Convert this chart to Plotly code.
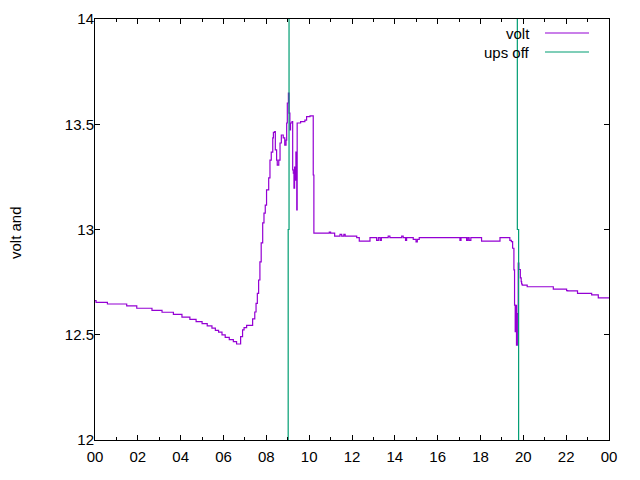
import plotly.graph_objects as go

# volt series (hours since midnight, volts), in segments
decline_t = [0.00, 0.05, 0.58, 1.48, 1.95, 2.66, 3.13, 3.66, 4.06, 4.43, 4.72,
             5.00, 5.24, 5.46, 5.62, 5.77, 5.93, 6.08, 6.27, 6.46, 6.61]
decline_v = [12.662, 12.654, 12.646, 12.637, 12.626, 12.616, 12.607, 12.597, 12.584, 12.573, 12.562,
             12.553, 12.542, 12.531, 12.521, 12.512, 12.499, 12.488, 12.477, 12.467, 12.456]

rise_t = [6.80, 6.89, 6.96, 7.08, 7.36, 7.46, 7.52, 7.58, 7.64, 7.70,
          7.76, 7.83, 7.89, 7.95, 8.01, 8.11, 8.17, 8.23, 8.30]
rise_v = [12.491, 12.523, 12.534, 12.545, 12.575, 12.608, 12.649, 12.697, 12.760, 12.846,
          12.936, 13.031, 13.078, 13.116, 13.188, 13.245, 13.330, 13.368, 13.435]

peak_t = [8.33, 8.39, 8.42, 8.48, 8.51, 8.58, 8.64, 8.70, 8.79, 8.86, 8.92,
          8.95, 8.98, 9.03, 9.06, 9.10, 9.13, 9.20, 9.23, 9.26, 9.29, 9.32,
          9.35, 9.38, 9.42, 9.44, 9.60, 9.80, 9.88, 10.04, 10.19, 10.22]
peak_v = [13.461, 13.465, 13.378, 13.330, 13.306, 13.330, 13.411, 13.449, 13.435, 13.401, 13.425,
          13.506, 13.601, 13.648, 13.553, 13.473, 13.506, 13.512, 13.283, 13.268, 13.197, 13.297,
          13.235, 13.368, 13.093, 13.506, 13.512, 13.520, 13.536, 13.540, 13.259, 12.983]

flat_t = [10.94, 11.00, 11.19, 11.44, 11.52, 11.62, 11.68, 12.22, 12.34, 12.84, 13.15, 13.23,
          13.31, 13.37, 13.69, 13.77, 14.32, 14.39, 14.50, 14.55, 14.86, 14.99, 15.05, 15.14,
          17.04, 17.09, 17.35, 17.41, 17.47, 17.55, 18.05, 18.91, 19.37, 19.44]
flat_v = [12.988, 12.983, 12.969, 12.977, 12.969, 12.977, 12.969, 12.961, 12.945, 12.961, 12.948, 12.961,
          12.948, 12.961, 12.969, 12.961, 12.969, 12.961, 12.948, 12.961, 12.953, 12.941, 12.953, 12.961,
          12.948, 12.961, 12.948, 12.961, 12.948, 12.961, 12.945, 12.961, 12.948, 12.942]

drop_t = [19.50, 19.56, 19.59, 19.62, 19.65, 19.68, 19.72, 19.76, 19.79, 19.86, 19.90,
          19.92, 19.95, 20.18, 21.40, 22.02, 22.07, 22.53, 23.19, 23.50, 24.00]
drop_v = [12.911, 12.808, 12.641, 12.515, 12.640, 12.451, 12.600, 12.840, 12.810, 12.770, 12.752,
          12.741, 12.736, 12.728, 12.717, 12.710, 12.708, 12.697, 12.689, 12.675, 12.675]

volt_t = decline_t + rise_t + peak_t + flat_t + drop_t
volt_v = decline_v + rise_v + peak_v + flat_v + drop_v
assert len(volt_t) == len(volt_v)

# ups off series (values outside the 12..14 range are clipped)
ups_t = [0, 9.02, 9.02, 9.06, 9.06, 19.72, 19.72, 19.78, 19.78, 24]
ups_v = [0, 0, 13, 13, 20, 20, 13, 13, 0, 0]

x_tickvals = list(range(0, 25, 2))
x_ticktext = ["00", "02", "04", "06", "08", "10", "12", "14", "16", "18", "20", "22", "00"]
y_tickvals = [12, 12.5, 13, 13.5, 14]
y_ticktext = ["12", "12.5", "13", "13.5", "14"]

PURPLE = "#9400D3"
GREEN = "#009E73"
FONT = "Liberation Sans, Arial, sans-serif"
FS = 15

fig = go.Figure()
fig.add_trace(go.Scatter(x=volt_t, y=volt_v, mode="lines", name="volt",
                         line=dict(color=PURPLE, width=1.2, shape="hv")))
fig.add_trace(go.Scatter(x=ups_t, y=ups_v, mode="lines", name="ups off",
                         line=dict(color=GREEN, width=1.2)))

# plot area in page pixels (page has an 8px body margin)
OFF = 8
PL, PR, PT, PB = 95, 609, 19, 440
W, H = 640, 480

def px(x):
    return (x - PL) / (PR - PL)

def py(y):
    return (PB - y) / (PB - PT)

fig.update_layout(
    width=W, height=H,
    margin=dict(l=PL - OFF, r=W - PR + OFF, t=PT - OFF, b=H - PB + OFF, pad=0,
                autoexpand=False),
    paper_bgcolor="white", plot_bgcolor="white",
    showlegend=False,
    font=dict(family=FONT, size=FS, color="black"),
    xaxis=dict(range=[0, 24], tickvals=x_tickvals, ticktext=x_ticktext,
               ticks="inside", ticklen=5, tickcolor="black", tickwidth=1,
               showline=True, linecolor="black", linewidth=1, mirror="allticks",
               showgrid=False, zeroline=False, ticklabelstandoff=3, automargin=False,
               minor=dict(dtick=1, tick0=0, ticks="inside", ticklen=3,
                          tickcolor="black", showgrid=False)),
    yaxis=dict(range=[12, 14], tickvals=y_tickvals, ticktext=y_ticktext,
               ticks="inside", ticklen=5, tickcolor="black", tickwidth=1,
               showline=True, linecolor="black", linewidth=1, mirror="allticks",
               showgrid=False, zeroline=False, ticklabelstandoff=-3, automargin=False),
)

annotations = [
    dict(text="volt and", xref="paper", yref="paper", x=px(15), y=py(233),
         textangle=-90, showarrow=False, xanchor="center", yanchor="middle",
         font=dict(family=FONT, size=FS, color="black")),
    dict(text="volt", xref="paper", yref="paper", x=px(532), y=py(33),
         showarrow=False, xanchor="right", yanchor="middle",
         font=dict(family=FONT, size=FS, color="black")),
    dict(text="ups off", xref="paper", yref="paper", x=px(532), y=py(52),
         showarrow=False, xanchor="right", yanchor="middle",
         font=dict(family=FONT, size=FS, color="black")),
]
fig.update_layout(annotations=annotations)
fig.add_shape(type="line", xref="paper", yref="paper", x0=px(545), x1=px(589),
              y0=py(33), y1=py(33), line=dict(color=PURPLE, width=1.2))
fig.add_shape(type="line", xref="paper", yref="paper", x0=px(545), x1=px(589),
              y0=py(52), y1=py(52), line=dict(color=GREEN, width=1.2))

fig.write_html("out.html")
